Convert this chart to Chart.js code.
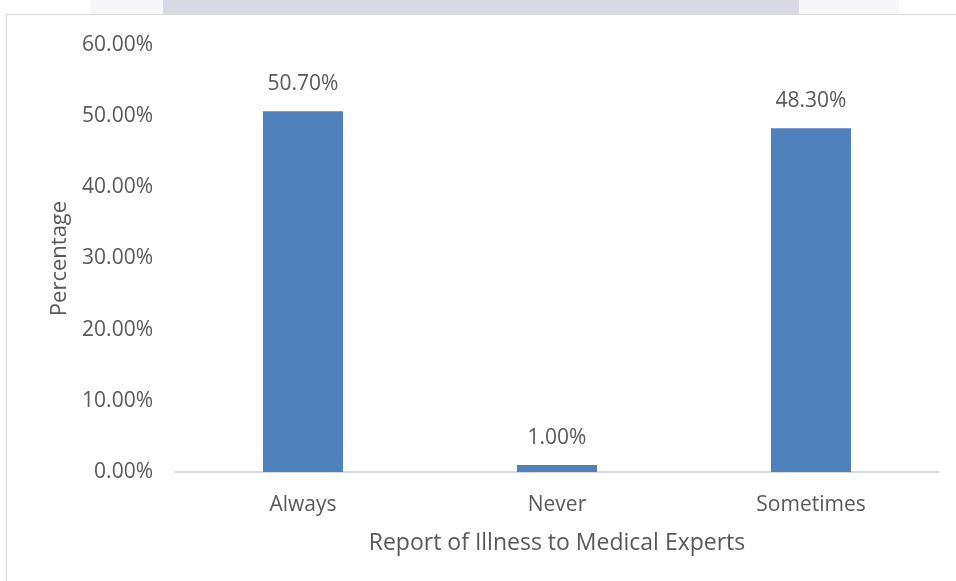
<!DOCTYPE html>
<html>
<head>
<meta charset="utf-8">
<script src="https://cdn.jsdelivr.net/npm/chart.js@4"></script>
<style>
  html, body { margin: 0; padding: 0; background: #ffffff; }
  #wrap { position: relative; width: 956px; height: 581px; overflow: hidden; }
  #band { position: absolute; left: 163px; top: 0; width: 636px; height: 14px; background: #d8d9e3; }
  #band2 { position: absolute; left: 90px; top: 0; width: 73px; height: 14px; background: #f7f7f9; }
  #band3 { position: absolute; left: 799px; top: 0; width: 100px; height: 14px; background: #f7f7f9; }
  #frame { position: absolute; left: 6px; top: 14px; width: 1000px; height: 700px;
           border-left: 1.5px solid #d9d9d9; border-top: 1.5px solid #d9d9d9; }
  #c { position: absolute; left: 0; top: 0; }
</style>
</head>
<body>
<div id="wrap">
  <div id="band2"></div><div id="band"></div><div id="band3"></div>
  <div id="frame"></div>
  <canvas id="c" width="956" height="581"></canvas>
</div>
<script>
const categories = ['Always', 'Never', 'Sometimes'];
const percentages = [50.7, 1.0, 48.3];
const yTicks = [0, 10, 20, 30, 40, 50, 60];

const FONT = '"Open Sans", sans-serif';
const TEXT = '#595959';

// Writes each bar's value above it
const valueLabels = {
  id: 'valueLabels',
  afterDatasetsDraw(chart) {
    const ctx = chart.ctx;
    const meta = chart.getDatasetMeta(0);
    ctx.save();
    ctx.font = '21px ' + FONT;
    ctx.fillStyle = TEXT;
    ctx.textAlign = 'center';
    ctx.textBaseline = 'middle';
    meta.data.forEach((bar, i) => {
      ctx.fillText(percentages[i].toFixed(2) + '%', bar.x, bar.y - 27);
    });
    ctx.restore();
  }
};

new Chart(document.getElementById('c'), {
  type: 'bar',
  data: {
    labels: categories,
    datasets: [{
      data: percentages,
      backgroundColor: '#4f81bd',
      barPercentage: 0.63,
      categoryPercentage: 0.5
    }]
  },
  options: {
    responsive: false,
    animation: false,
    layout: { padding: { left: 47, right: 18, top: 45, bottom: 24 } },
    plugins: { legend: { display: false }, tooltip: { enabled: false } },
    scales: {
      x: {
        afterFit(axis) { axis.height = 85; },
        grid: { display: false, drawTicks: false },
        border: { color: '#d9d9d9', width: 2 },
        ticks: { color: TEXT, font: { family: FONT, size: 21 }, padding: 20 },
        title: {
          display: true, text: 'Report of Illness to Medical Experts',
          color: TEXT, font: { family: FONT, size: 23 }, padding: { top: 14, bottom: 0 }
        }
      },
      y: {
        min: 0, max: 60,
        afterBuildTicks(axis) { axis.ticks = yTicks.map(v => ({ value: v })); },
        afterFit(axis) { axis.width = 129; },
        grid: { display: false, drawTicks: false },
        border: { display: false },
        ticks: {
          color: TEXT, font: { family: FONT, size: 21 }, padding: 23,
          callback: v => Number(v).toFixed(2) + '%'
        },
        title: {
          display: true, text: 'Percentage',
          color: TEXT, font: { family: FONT, size: 22 }, padding: { top: 0, bottom: 0 }
        }
      }
    }
  },
  plugins: [valueLabels]
});
</script>
</body>
</html>
